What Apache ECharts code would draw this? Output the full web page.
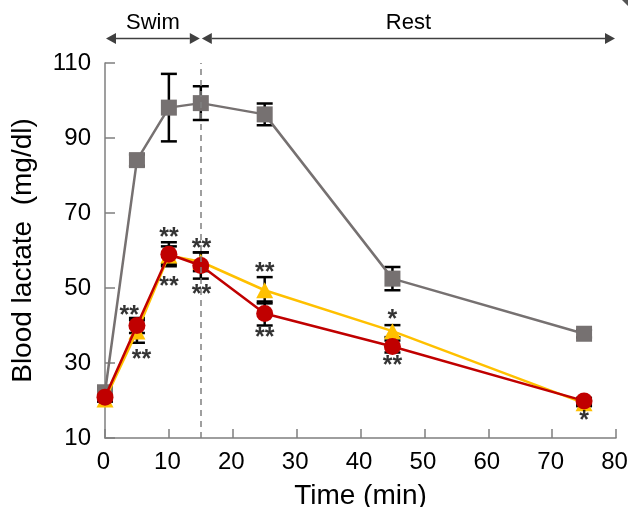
<!DOCTYPE html>
<html>
<head>
<meta charset="utf-8">
<script src="https://cdn.jsdelivr.net/npm/echarts@6/dist/echarts.min.js"></script>
<style>
  html, body { margin: 0; padding: 0; background: #fff; }
  #chart { width: 628px; height: 507px; }
</style>
</head>
<body>
<div id="chart"></div>
<script>
  // time points (min)
  var timeMin = [0, 5, 10, 15, 25, 45, 75];
  // blood lactate (mg/dl), mean and SD per group
  var grayMean = [22.2, 84.1, 98.1, 99.3, 96.3, 52.5, 37.8];
  var graySd = [1, 1.5, 9, 4.5, 2.9, 3.1, 1];
  var yellowMean = [20.3, 38.4, 58.7, 57.0, 49.4, 38.5, 19.3];
  var yellowSd = [0.6, 3, 2.4, 2.5, 3.5, 1.6, 0.8];
  var redMean = [20.9, 40.0, 59.0, 56.0, 43.2, 34.4, 19.9];
  var redSd = [0.6, 2, 3.2, 3.5, 3.2, 1.6, 0.8];
  // significance marks: [time, level, text]
  var starMarks = [
    [3.8, 44.0, '**'], [5.7, 32.5, '**'],
    [10, 64.9, '**'], [10, 51.8, '**'],
    [15.1, 62.0, '**'], [15.1, 49.8, '**'],
    [25, 55.6, '**'], [25, 38.3, '**'],
    [45, 43.0, '*'], [45, 30.7, '**'],
    [75, 16.0, '*']
  ];
  // phases shown above the plot
  var phaseNames = ['Swim', 'Rest'];
  var phaseBounds = [[0, 15], [15, 80]];

  var font = 'Liberation Sans, Arial, sans-serif';
  var axisColor = '#7f7f7f';

  function pairs(mean) {
    return timeMin.map(function (t, i) { return [t, mean[i]]; });
  }

  function errorSeries(mean, sd) {
    return {
      type: 'custom',
      z: 1,
      silent: true,
      data: timeMin.map(function (t, i) { return [t, mean[i] - sd[i], mean[i] + sd[i]]; }),
      encode: { x: 0, y: [1, 2] },
      renderItem: function (params, api) {
        var lo = api.coord([api.value(0), api.value(1)]);
        var hi = api.coord([api.value(0), api.value(2)]);
        var w = 8;
        var st = { stroke: '#000', lineWidth: 2.5 };
        return {
          type: 'group',
          children: [
            { type: 'line', shape: { x1: hi[0], y1: hi[1], x2: lo[0], y2: lo[1] }, style: st },
            { type: 'line', shape: { x1: hi[0] - w, y1: hi[1], x2: hi[0] + w, y2: hi[1] }, style: st },
            { type: 'line', shape: { x1: lo[0] - w, y1: lo[1], x2: lo[0] + w, y2: lo[1] }, style: st }
          ]
        };
      }
    };
  }

  var chart = echarts.init(document.getElementById('chart'));

  var option = {
    animation: false,
    grid: { left: 105, right: 12, top: 63, bottom: 69, outerBoundsMode: 'none', containLabel: false },
    xAxis: {
      type: 'value',
      min: 0, max: 80, interval: 10,
      name: 'Time (min)',
      nameLocation: 'middle',
      nameGap: 44,
      nameTextStyle: { fontFamily: font, fontSize: 28, color: '#000' },
      axisLine: { lineStyle: { color: axisColor, width: 1.5 } },
      axisTick: { inside: true, length: 9, lineStyle: { color: axisColor, width: 1.5 } },
      axisLabel: { fontFamily: font, fontSize: 24, color: '#000', margin: 12, padding: [0, 3, 0, 0] },
      splitLine: { show: false }
    },
    yAxis: {
      type: 'value',
      min: 10, max: 110, interval: 20,
      name: 'Blood lactate  (mg/dl)',
      nameLocation: 'middle',
      nameGap: 68,
      nameTextStyle: { fontFamily: font, fontSize: 28, color: '#000' },
      axisLine: { show: true, lineStyle: { color: axisColor, width: 1.5 } },
      axisTick: { show: true, inside: true, length: 10, lineStyle: { color: axisColor, width: 1.5 } },
      axisLabel: { fontFamily: font, fontSize: 24, color: '#000', margin: 14 },
      splitLine: { show: false }
    },
    series: [
      errorSeries(grayMean, graySd),
      errorSeries(yellowMean, yellowSd),
      errorSeries(redMean, redSd),
      {
        name: 'Group 1',
        type: 'line',
        z: 2,
        data: pairs(grayMean),
        symbol: 'rect',
        symbolSize: 16,
        itemStyle: { color: '#767171' },
        lineStyle: { color: '#767171', width: 2.5 },
        markLine: {
          silent: true,
          symbol: 'none',
          label: { show: false },
          lineStyle: { color: '#808080', type: [6, 5], width: 1.5 },
          data: [{ xAxis: 15 }]
        }
      },
      {
        name: 'Group 2',
        type: 'line',
        z: 3,
        data: pairs(yellowMean),
        symbol: 'triangle',
        symbolSize: [17, 16],
        itemStyle: { color: '#ffc000' },
        lineStyle: { color: '#ffc000', width: 2.5 }
      },
      {
        name: 'Group 3',
        type: 'line',
        z: 4,
        data: pairs(redMean),
        symbol: 'circle',
        symbolSize: 17,
        itemStyle: { color: '#c00000' },
        lineStyle: { color: '#c00000', width: 2.5 }
      },
      {
        type: 'scatter',
        z: 5,
        silent: true,
        symbolSize: 0,
        data: starMarks.map(function (m) { return { value: [m[0], m[1]], name: m[2] }; }),
        label: {
          show: true,
          position: 'inside',
          formatter: '{b}',
          fontFamily: font,
          fontSize: 25,
          fontWeight: 'bold',
          color: '#000',
          textBorderWidth: 0,
          offset: [0, 6]
        }
      }
    ]
  };

  chart.setOption(option);

  // phase arrows above the plot, placed through the x axis scale
  var arrowY = 38.5;
  var graphics = [];
  phaseBounds.forEach(function (b, i) {
    var xa = chart.convertToPixel({ xAxisIndex: 0, yAxisIndex: 0 }, [b[0], 10])[0] + 1;
    var xb = chart.convertToPixel({ xAxisIndex: 0, yAxisIndex: 0 }, [b[1], 10])[0] - 1;
    var head = 10, half = 5.5, col = '#404040';
    graphics.push({
      type: 'line',
      shape: { x1: xa + head, y1: arrowY, x2: xb - head, y2: arrowY },
      style: { stroke: col, lineWidth: 1.5 }
    });
    graphics.push({
      type: 'polygon',
      shape: { points: [[xa, arrowY], [xa + head, arrowY - half], [xa + head, arrowY + half]] },
      style: { fill: col }
    });
    graphics.push({
      type: 'polygon',
      shape: { points: [[xb, arrowY], [xb - head, arrowY - half], [xb - head, arrowY + half]] },
      style: { fill: col }
    });
    graphics.push({
      type: 'text',
      x: (xa + xb) / 2,
      y: 23,
      style: {
        text: phaseNames[i], fontFamily: font, fontSize: 22, fill: '#000',
        align: 'center', verticalAlign: 'middle'
      }
    });
  });
  graphics.push({
    type: 'polygon',
    shape: { points: [[622, 0], [628, 0], [628, 6]] },
    style: { fill: '#555' }
  });
  chart.setOption({ graphic: graphics });
</script>
</body>
</html>
